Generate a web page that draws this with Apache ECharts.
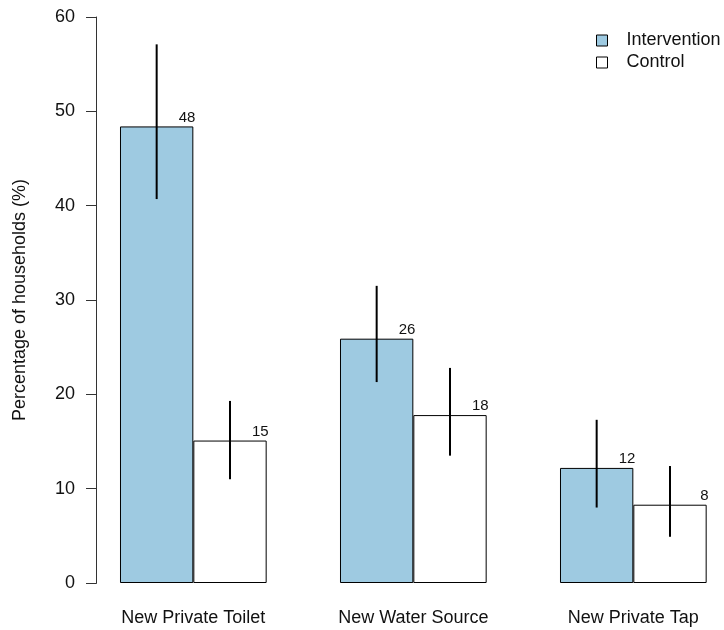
<!DOCTYPE html>
<html>
<head>
<meta charset="utf-8">
<script src="https://cdn.jsdelivr.net/npm/echarts@6/dist/echarts.min.js"></script>
<style>html,body{margin:0;padding:0;background:#fff;overflow:hidden;width:724px;height:630px;}#c{width:744px;height:630px;}</style>
</head>
<body>
<div id="c"></div>
<script>
const categories = ['New Private Toilet', 'New Water Source', 'New Private Tap'];
const seriesNames = ['Intervention', 'Control'];
const interventionValues = [48.4, 25.9, 12.2];
const controlValues = [15.1, 17.8, 8.3];
const interventionLow = [40.7, 21.3, 8.0];
const interventionHigh = [57.1, 31.5, 17.3];
const controlLow = [11.0, 13.5, 4.9];
const controlHigh = [19.3, 22.8, 12.4];
const interventionLabels = ['48', '26', '12'];
const controlLabels = ['15', '18', '8'];
const yTicks = [0, 10, 20, 30, 40, 50, 60];

const chart = echarts.init(document.getElementById('c'), null, {renderer: 'canvas'});
const FONT = 'Liberation Sans, Arial, Helvetica, sans-serif';
const CAT_GAP = 1 / 3;

function errSeries(lows, highs, side) {
  return {
    type: 'custom',
    silent: true,
    z: 10,
    data: categories.map((c, i) => [i, lows[i], highs[i]]),
    encode: {x: 0, y: [1, 2]},
    renderItem: function (params, api) {
      const i = api.value(0);
      const lo = api.coord([i, api.value(1)]);
      const hi = api.coord([i, api.value(2)]);
      const band = api.size([1, 0])[0];
      const bw = band * (1 - CAT_GAP) / 2;
      const x = lo[0] + side * bw / 2;
      return {
        type: 'line',
        shape: {x1: x, y1: lo[1], x2: x, y2: hi[1]},
        style: {stroke: '#000', lineWidth: 2}
      };
    }
  };
}

function valueLabel(texts) {
  return {
    show: true,
    position: ['100%', 0],
    align: 'right',
    verticalAlign: 'bottom',
    offset: [2, -1.5],
    fontFamily: FONT,
    fontSize: 15,
    color: '#111',
    formatter: p => texts[p.dataIndex]
  };
}

chart.setOption({
  animation: false,
  backgroundColor: '#fff',
  textStyle: {fontFamily: FONT},
  grid: {left: 83.33, width: 660, top: 17, bottom: 47, containLabel: false},
  legend: {
    data: seriesNames,
    orient: 'vertical',
    left: 591,
    top: 26.5,
    icon: 'rect',
    itemWidth: 11,
    itemHeight: 11,
    itemGap: 4,
    selectedMode: false,
    itemStyle: {borderWidth: 1, borderColor: '#000'},
    textStyle: {fontFamily: FONT, fontSize: 18, color: '#111', padding: [0, 0, 0, 14]}
  },
  xAxis: {
    type: 'category',
    data: categories,
    axisLine: {show: false},
    axisTick: {show: false},
    axisLabel: {fontFamily: FONT, fontSize: 18, color: '#111', margin: 26, interval: 0}
  },
  yAxis: {
    type: 'value',
    min: 0,
    max: 60,
    interval: 10,
    offset: -13.4,
    name: 'Percentage of households (%)',
    nameLocation: 'middle',
    nameGap: 68,
    nameTextStyle: {fontFamily: FONT, fontSize: 18, color: '#111'},
    splitLine: {show: false},
    axisLine: {show: true, lineStyle: {color: '#333', width: 1}},
    axisTick: {show: true, length: 10.7, lineStyle: {color: '#333', width: 1}},
    axisLabel: {fontFamily: FONT, fontSize: 18, color: '#111', margin: 21.7,
      formatter: v => (yTicks.indexOf(v) >= 0 ? String(v) : '')}
  },
  series: [
    {
      name: seriesNames[0],
      type: 'bar',
      data: interventionValues,
      barGap: '0%',
      barCategoryGap: (CAT_GAP * 100) + '%',
      itemStyle: {color: '#9ECAE1', borderColor: '#000', borderWidth: 1},
      label: valueLabel(interventionLabels)
    },
    {
      name: seriesNames[1],
      type: 'bar',
      data: controlValues,
      barGap: '0%',
      barCategoryGap: (CAT_GAP * 100) + '%',
      itemStyle: {color: '#ffffff', borderColor: '#000', borderWidth: 1},
      label: valueLabel(controlLabels)
    },
    errSeries(interventionLow, interventionHigh, -1),
    errSeries(controlLow, controlHigh, 1)
  ]
});
</script>
</body>
</html>
